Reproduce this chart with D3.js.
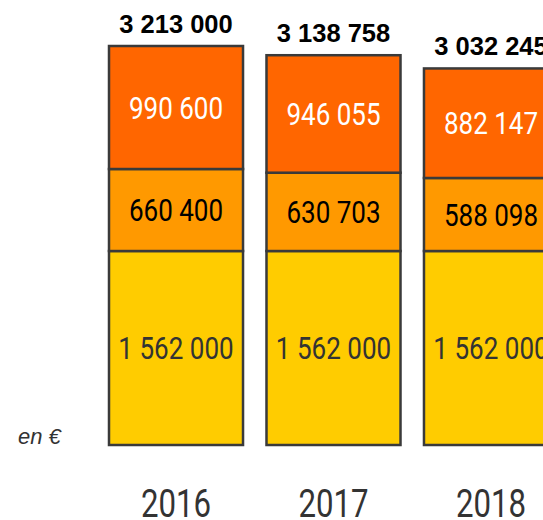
<!DOCTYPE html>
<html>
<head>
<meta charset="utf-8">
<script src="https://cdn.jsdelivr.net/npm/d3@7"></script>
<style>
  body { margin: 0; background: #fff; }
  svg { display: block; }
</style>
</head>
<body>
<svg width="543" height="520"></svg>
<script>
// data
const years = ["2016", "2017", "2018"];
const base = [1562000, 1562000, 1562000];
const middle = [660400, 630703, 588098];
const top_ = [990600, 946055, 882147];
const totals = [3213000, 3138758, 3032245];
const unitLabel = "en €";

const svg = d3.select("svg");

const fmt = v => d3.format(",")(v).replace(/,/g, " ");

const x = d3.scaleBand().domain(years).range([109, 558]).paddingInner(0.149).paddingOuter(0);
const y = d3.scaleLinear().domain([0, 3213000]).range([445, 46]);

const layers = [
  { fill: "#ffcc00", text: "#333333" },
  { fill: "#ff9900", text: "#000000" },
  { fill: "#ff6600", text: "#ffffff" }
];

// stack
let rows = years.map((yr, i) => ({ year: yr, base: base[i], middle: middle[i], top: top_[i] }));
let stack = d3.stack().keys(["base", "middle", "top"])(rows);

stack.forEach((s, li) => {
  let g = svg.append("g");
  g.selectAll("rect").data(s).enter().append("rect")
    .attr("x", d => x(d.data.year))
    .attr("y", d => y(d[1]))
    .attr("width", x.bandwidth())
    .attr("height", d => y(d[0]) - y(d[1]))
    .attr("fill", layers[li].fill)
    .attr("stroke", "#3a3a3a")
    .attr("stroke-width", 2.5);

  g.selectAll("text").data(s).enter().append("text")
    .attr("transform", d => `translate(${x(d.data.year) + x.bandwidth() / 2},${(y(d[0]) + y(d[1])) / 2}) scale(0.84,1)`)
    .attr("text-anchor", "middle")
    .attr("dy", "0.36em")
    .attr("font-family", "Roboto, sans-serif")
    .attr("font-size", 31)
    .attr("fill", layers[li].text)
    .text(d => fmt(d[1] - d[0]));
});

// totals
svg.append("g").selectAll("text").data(years).enter().append("text")
  .attr("x", d => x(d) + x.bandwidth() / 2)
  .attr("y", (d, i) => y(totals[i]) - 13)
  .attr("text-anchor", "middle")
  .attr("font-family", "'Liberation Sans', Arial, sans-serif")
  .attr("font-weight", "bold")
  .attr("font-size", 25.5)
  .attr("fill", "#000")
  .text((d, i) => fmt(totals[i]));

// year labels
svg.append("g").selectAll("text").data(years).enter().append("text")
  .attr("transform", d => `translate(${x(d) + x.bandwidth() / 2},517) scale(0.8,1)`)
  .attr("text-anchor", "middle")
  .attr("font-family", "Roboto, sans-serif")
  .attr("font-size", 39)
  .attr("fill", "#333")
  .text(d => d);

svg.append("text")
  .attr("x", 18)
  .attr("y", 444)
  .attr("font-family", "'Liberation Sans', Arial, sans-serif")
  .attr("font-style", "italic")
  .attr("font-size", 22)
  .attr("fill", "#333")
  .text(unitLabel);
</script>
</body>
</html>
